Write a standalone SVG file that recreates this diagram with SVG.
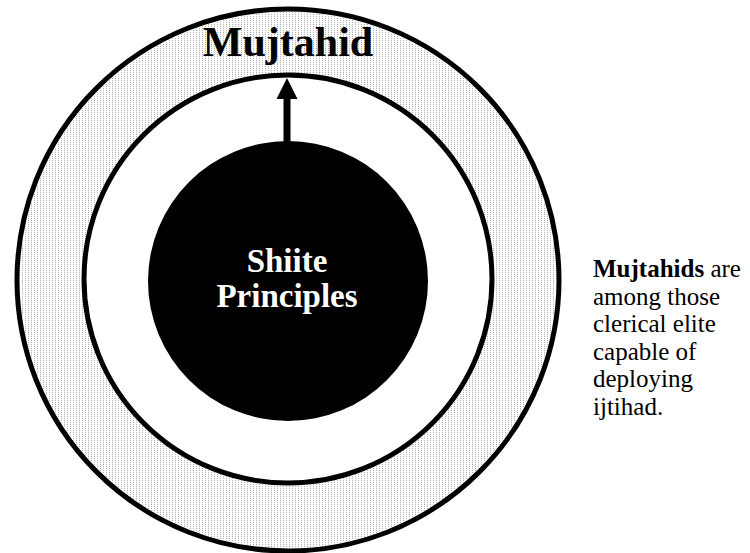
<svg xmlns="http://www.w3.org/2000/svg" width="750" height="553" viewBox="0 0 750 553">
<defs>
<pattern id="dots" patternUnits="userSpaceOnUse" x="0" y="0" width="3" height="2">
<rect x="1" y="0" width="1" height="1" fill="#b0b0b0"/>
</pattern>
</defs>
<style>
.ring{stroke:#000;stroke-width:5}
text{font-family:'Liberation Serif','Times New Roman',Times,serif}
</style>
<g id="outer-ring">
<circle class="ring" cx="288" cy="280" r="271" fill="#fff"/>
<circle cx="288" cy="280" r="268" fill="url(#dots)"/>
</g>
<g id="middle-ring">
<circle class="ring" cx="288" cy="279" r="204" fill="#fff"/>
</g>
<g id="core">
<circle cx="288" cy="281" r="140" fill="#000"/>
<text x="287" y="272" font-size="33" font-weight="bold" fill="#fff" text-anchor="middle">Shiite</text>
<text x="287" y="307" font-size="33" font-weight="bold" fill="#fff" text-anchor="middle">Principles</text>
</g>
<g id="connectors">
<polygon points="283.5,99 283.5,143 290.5,143 290.5,99 297.5,99 287,78 276.5,99" fill="#000"/>
</g>
<g id="mujtahid-label">
<text x="288" y="56" font-size="42" font-weight="bold" fill="#000" text-anchor="middle">Mujtahid</text>
</g>
<g id="note">
<text font-size="25" fill="#000">
<tspan x="593" y="277"><tspan font-weight="bold">Mujtahids</tspan> are</tspan>
<tspan x="593" y="304.5">among those</tspan>
<tspan x="593" y="332">clerical elite</tspan>
<tspan x="593" y="359.5">capable of</tspan>
<tspan x="593" y="387">deploying</tspan>
<tspan x="593" y="414.5">ijtihad.</tspan>
</text>
</g>
</svg>
